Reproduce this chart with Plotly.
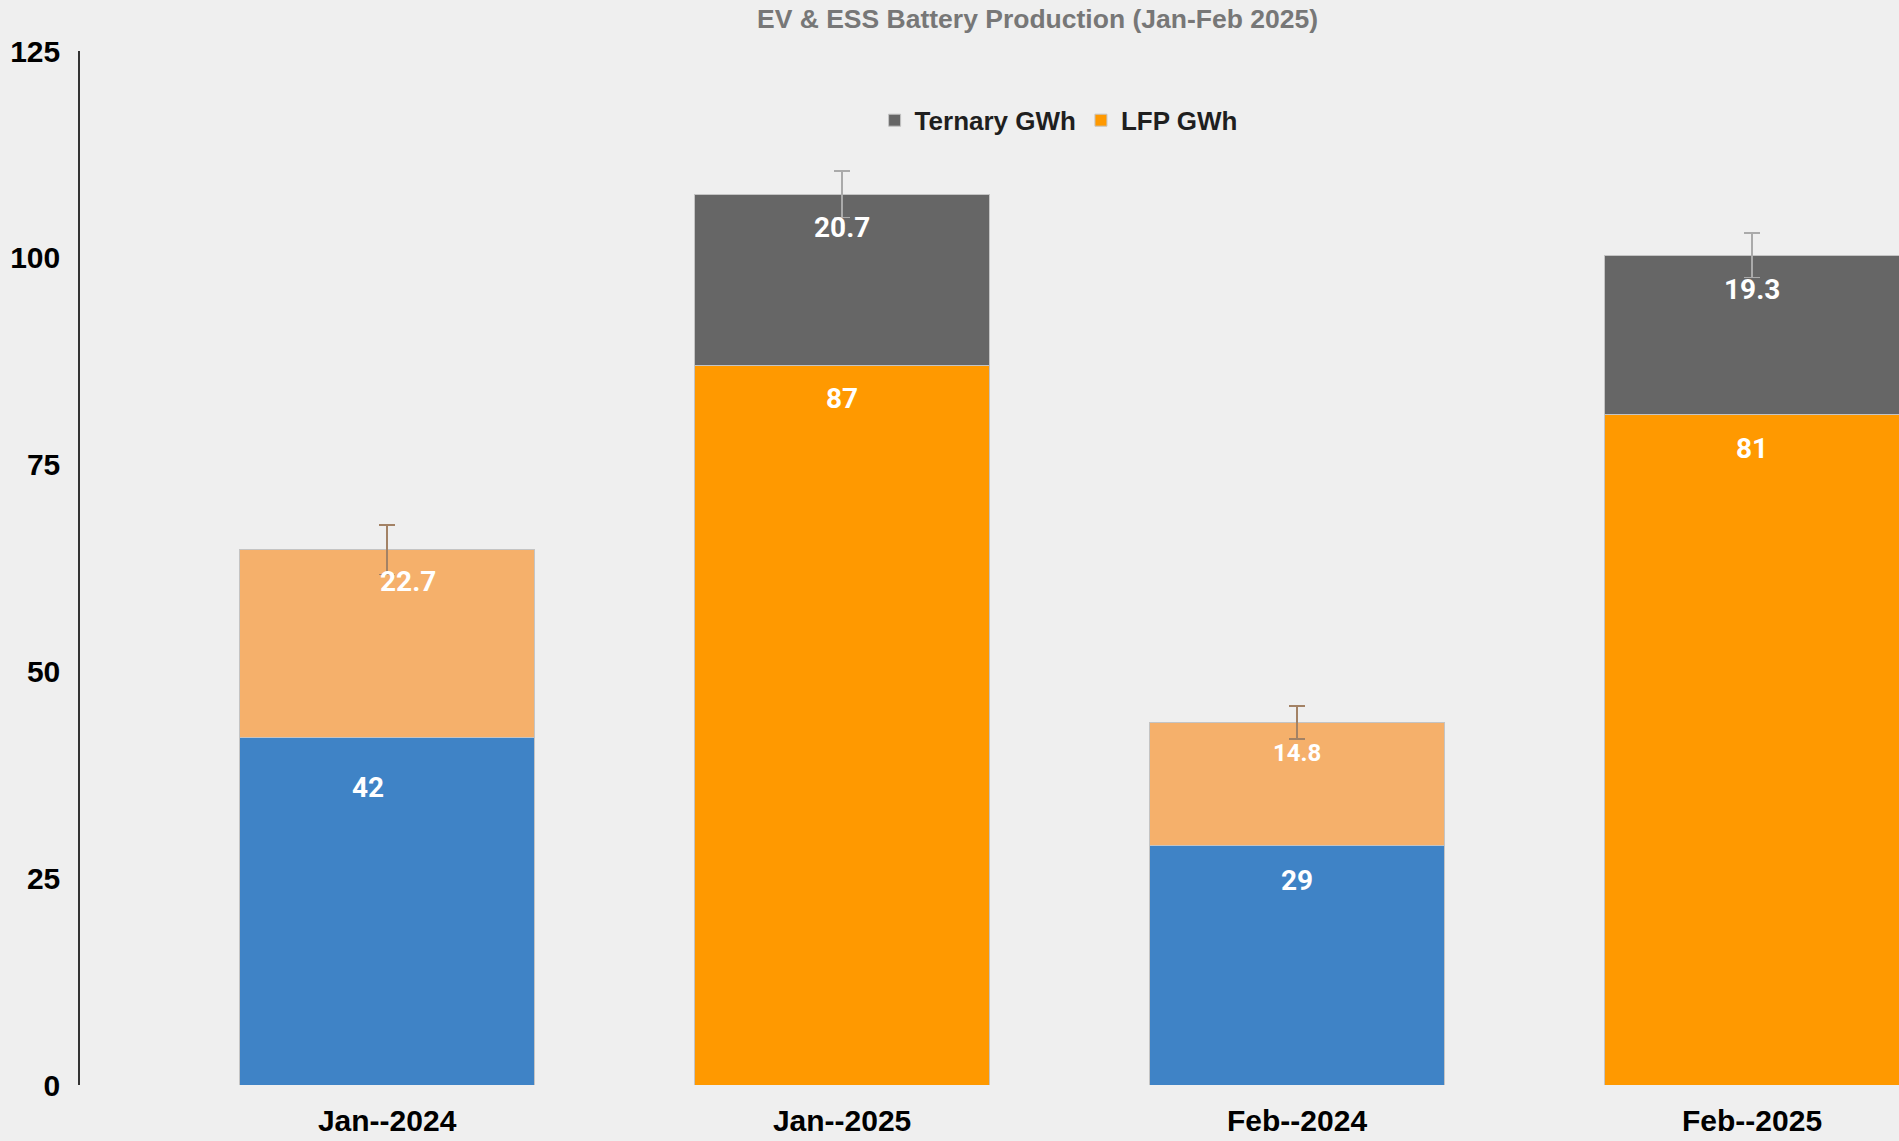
import plotly.graph_objects as go

categories = ["Jan--2024", "Jan--2025", "Feb--2024", "Feb--2025"]
base_2024 = [42, None, 29, None]          # blue
top_2024 = [22.7, None, 14.8, None]       # light orange
lfp = [None, 87, None, 81]                # LFP GWh
ternary = [None, 20.7, None, 19.3]        # Ternary GWh
err_2024 = [3.0, None, 2.0, None]
err_ternary = [None, 2.8, None, 2.7]

BLUE = "#3f83c6"
LIGHT_ORANGE = "#f5b06b"
ORANGE = "#ff9900"
GRAY = "#666666"
OUTLINE = dict(color="#c4c4c4", width=1)

fig = go.Figure()
fig.add_trace(go.Bar(x=categories, y=base_2024, marker=dict(color=BLUE, line=OUTLINE),
                     showlegend=False, name="2024 base"))
fig.add_trace(go.Bar(x=categories, y=lfp, marker=dict(color=ORANGE, line=OUTLINE),
                     name="LFP GWh", legendrank=2))
fig.add_trace(go.Bar(x=categories, y=top_2024, marker=dict(color=LIGHT_ORANGE, line=OUTLINE),
                     showlegend=False, name="2024 top",
                     error_y=dict(type="data", array=err_2024, visible=True,
                                  color="#a38265", thickness=1.5, width=8)))
fig.add_trace(go.Bar(x=categories, y=ternary, marker=dict(color=GRAY, line=OUTLINE),
                     name="Ternary GWh", legendrank=1,
                     error_y=dict(type="data", array=err_ternary, visible=True,
                                  color="#aaaaaa", thickness=1.5, width=8)))

# data labels
label_font = dict(family="Roboto", size=28, color="white", weight="bold")
def add_labels(values, bases, xshifts, yshifts, sizes):
    for c, v, b, xs, ys, sz in zip(categories, values, bases, xshifts, yshifts, sizes):
        if v is None:
            continue
        top = v + (b or 0)
        f = dict(label_font)
        f["size"] = sz
        fig.add_annotation(x=c, y=top, xref="x", yref="y", text=f"{v:g}", showarrow=False,
                           xshift=xs, yshift=ys, yanchor="middle", xanchor="center", font=f)

add_labels(base_2024, [0, 0, 0, 0], [-19, 0, 0, 0], [-50, 0, -35, 0], [28, 28, 28, 28])
add_labels(lfp, [0, 0, 0, 0], [0, 0, 0, 0], [0, -33, 0, -34], [28, 28, 28, 28])
add_labels(top_2024, base_2024, [21, 0, 0, 0], [-32, 0, -30, 0], [28, 28, 24, 28])
add_labels(ternary, lfp, [0, 0, 0, 0], [0, -33, 0, -34], [28, 28, 28, 28])

fig.update_layout(
    width=1899, height=1141,
    barmode="stack", bargap=0.35,
    paper_bgcolor="#efefef", plot_bgcolor="#efefef",
    margin=dict(l=80, r=0, t=51, b=56),
    title=dict(text="EV & ESS Battery Production (Jan-Feb 2025)", x=1037.5 / 1899, xref="container",
               xanchor="center", y=1 - 19 / 1141, yref="container", yanchor="middle",
               font=dict(family="Liberation Sans", size=26.5, color="#777777", weight="bold")),
    legend=dict(orientation="h", x=0.538, xanchor="center", y=0.933, yanchor="middle",
                bgcolor="rgba(0,0,0,0)", traceorder="normal",
                font=dict(family="Liberation Sans", size=26, color="#1f1f1f", weight="bold")),
    xaxis=dict(range=[-0.675, 3.323], showgrid=False, showline=False, zeroline=False,
               ticks="outside", ticklen=9, tickcolor="rgba(0,0,0,0)",
               tickfont=dict(family="Liberation Sans", size=30, color="#000000", weight="bold")),
    yaxis=dict(range=[0, 125], tickvals=[0, 25, 50, 75, 100, 125], showgrid=False,
               showline=True, linecolor="#333333", linewidth=1.5, zeroline=False,
               ticks="outside", ticklen=12, tickcolor="rgba(0,0,0,0)",
               tickfont=dict(family="Liberation Sans", size=30, color="#000000", weight="bold")),
)

fig.write_html("out.html", config={"displayModeBar": False},
               post_script="document.body.style.margin='0';document.body.style.overflow='hidden';")
